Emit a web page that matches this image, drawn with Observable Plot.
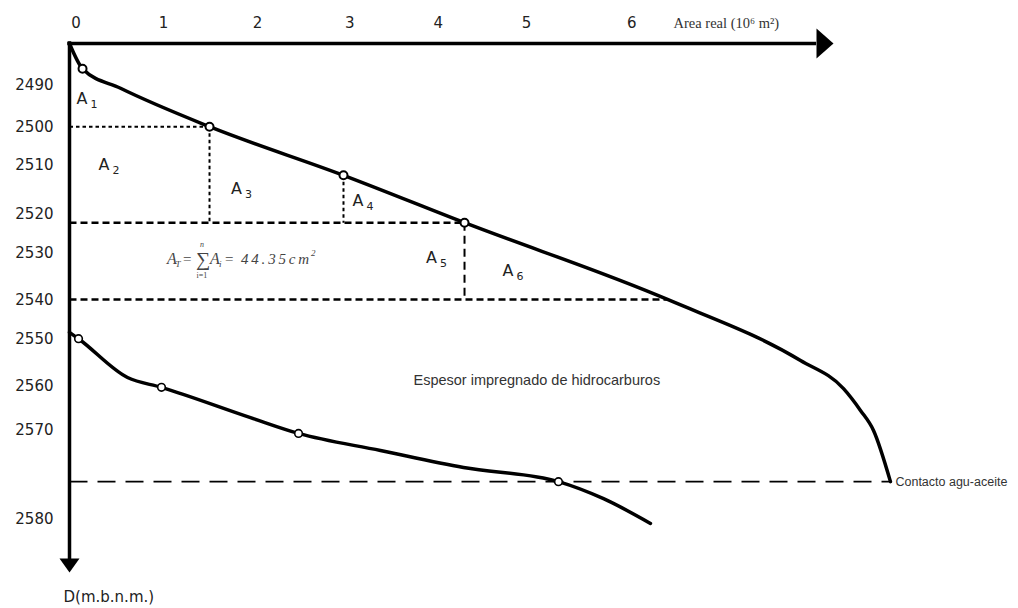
<!DOCTYPE html>
<html><head><meta charset="utf-8">
<script src="https://cdn.jsdelivr.net/npm/d3@7"></script>
<script src="https://cdn.jsdelivr.net/npm/@observablehq/plot@0.6"></script>
<style>body{margin:0;background:#fff}</style>
</head><body><div id="chart"></div>
<script>
// ---- data (area in 10^6 m^2, depth in m.b.n.m.) ----
const xTickLabels = ["0","1","2","3","4","5","6"];
const xTickAt     = [0.07, 1.01, 2.02, 3.01, 3.96, 4.91, 6.04];
const yTickLabels = ["2490","2500","2510","2520","2530","2540","2550","2560","2570","2580"];
const yTickAt     = [2489.8, 2499.5, 2508.6, 2519.9, 2529.2, 2540.2, 2549.4, 2560.4, 2570.7, 2591.6];

const upperArea  = [0, 0.14, 0.548, 1.504, 2.943, 4.243, 6.423, 7.852, 8.314, 8.496, 8.636, 8.818];
const upperDepth = [2480, 2485.9, 2490.5, 2499.5, 2510.9, 2522, 2540, 2554.3, 2560.9, 2566, 2570.7, 2582.7];
const lowerArea  = [0, 0.097, 0.623, 0.988, 1.944, 2.46, 3.34, 4.232, 5.252, 5.736, 6.24];
const lowerDepth = [2547.7, 2549.2, 2558.3, 2560.6, 2567.7, 2571.4, 2575.4, 2579.4, 2582.7, 2586.7, 2592.5];

const upperPtArea  = [0.14, 1.504, 2.943, 4.243];
const upperPtDepth = [2485.9, 2499.5, 2510.9, 2522];
const lowerPtArea  = [0.097, 0.988, 2.46, 5.252];
const lowerPtDepth = [2549.2, 2560.6, 2571.4, 2582.7];

const contactDepth = 2582.7, contactArea = 8.818;
const xAxisEnd = 8.206, yAxisTop = 2480, yAxisEnd = 2604;

// guide segments: [x1, y1, x2, y2]
const dottedSegs = [[0, 2499.5, 1.504, 2499.5], [1.504, 2499.5, 1.504, 2522], [2.943, 2510.9, 2.943, 2522]];
const dashedSegs = [[0, 2522, 4.243, 2522], [0, 2540, 6.423, 2540]];
const dashedVSegs = [[4.243, 2522, 4.243, 2540]];
const contactSegs = [[0, contactDepth, contactArea, contactDepth]];

const areaSub = ["1","2","3","4","5","6"];
const areaLabelX = [0.134, 0.371, 1.794, 3.099, 3.888, 4.71];
const areaLabelY = [2492.9, 2508.4, 2514.0, 2516.8, 2530.2, 2533.3];

// ---- build tables ----
const zip = (a, b) => a.map((v, i) => ({x: v, y: b[i]}));
const upper = zip(upperArea, upperDepth), lower = zip(lowerArea, lowerDepth);
const upperPts = zip(upperPtArea, upperPtDepth), lowerPts = zip(lowerPtArea, lowerPtDepth);
const seg = s => s.map(([x1, y1, x2, y2]) => ({x1, y1, x2, y2}));
const xt = xTickLabels.map((t, i) => ({t, x: xTickAt[i], y: yAxisTop}));
const yt = yTickLabels.map((t, i) => ({t, x: 0, y: yTickAt[i]}));
const al = areaSub.map((t, i) => ({t, x: areaLabelX[i], y: areaLabelY[i]}));

const arrowRight = {draw(c) { c.moveTo(0, 0); c.lineTo(-17, -15); c.lineTo(-17, 15); c.closePath(); }};
const arrowDown  = {draw(c) { c.moveTo(0, 0); c.lineTo(-10, -14); c.lineTo(10, -14); c.closePath(); }};

const sans = "DejaVu Sans, Verdana, sans-serif";
const arial = "Liberation Sans, Arial, sans-serif";
const serif = "Liberation Serif, Times New Roman, serif";

const chart = Plot.plot({
  width: 1018, height: 608,
  marginLeft: 69, marginRight: 18, marginTop: 43, marginBottom: 36,
  x: {domain: [0, 10], axis: null},
  y: {domain: [2480, 2604], reverse: true, axis: null},
  style: {background: "white", fontFamily: sans, overflow: "visible"},
  marks: [
    Plot.link(seg(dottedSegs), {x1: "x1", y1: "y1", x2: "x2", y2: "y2", strokeWidth: 2, strokeDasharray: "3.5,3"}),
    Plot.link(seg(dashedSegs), {x1: "x1", y1: "y1", x2: "x2", y2: "y2", strokeWidth: 2.5, strokeDasharray: "7,4"}),
    Plot.link(seg(dashedVSegs), {x1: "x1", y1: "y1", x2: "x2", y2: "y2", strokeWidth: 2, strokeDasharray: "8,5"}),
    Plot.link(seg(contactSegs), {x1: "x1", y1: "y1", x2: "x2", y2: "y2", strokeWidth: 1.6, strokeDasharray: "18,10"}),
    Plot.line(upper, {x: "x", y: "y", curve: "monotone-x", strokeWidth: 3.5}),
    Plot.line(lower, {x: "x", y: "y", curve: "monotone-x", strokeWidth: 3.5}),
    Plot.dot(upperPts, {x: "x", y: "y", r: 4, fill: "white", stroke: "black", strokeWidth: 2}),
    Plot.dot(lowerPts, {x: "x", y: "y", r: 3.8, fill: "white", stroke: "black", strokeWidth: 1.6}),
    Plot.ruleY([yAxisTop], {x1: 0, x2: xAxisEnd - 0.2, strokeWidth: 3.5, strokeLinecap: "square"}),
    Plot.ruleX([0], {y1: yAxisTop, y2: yAxisEnd - 3, strokeWidth: 3.5, strokeLinecap: "square"}),
    Plot.dot([{x: xAxisEnd, y: yAxisTop}], {x: "x", y: "y", symbol: arrowRight, fill: "black", stroke: "none"}),
    Plot.dot([{x: 0, y: yAxisEnd}], {x: "x", y: "y", symbol: arrowDown, fill: "black", stroke: "none"}),
    Plot.text(xt, {x: "x", y: "y", text: "t", dy: -20, fontSize: 15, fill: "#222"}),
    Plot.text(yt, {x: "x", y: "y", text: "t", dx: -16, textAnchor: "end", fontSize: 15, fill: "#222"}),
    Plot.text(al, {x: "x", y: "y", text: d => "A", fontSize: 16, fill: "#222"}),
    Plot.text(al, {x: "x", y: "y", text: "t", dx: 12, dy: 6, fontSize: 11, fill: "#222"}),
    Plot.text([{x: 6.488, y: yAxisTop}], {x: "x", y: "y", text: d => "Area real (10\u2076 m\u00b2)", dy: -20, textAnchor: "start", fontSize: 14.5, fontFamily: serif, fill: "#333"}),
    Plot.text([{x: 3.695, y: 2559}], {x: "x", y: "y", text: d => "Espesor impregnado de hidrocarburos", textAnchor: "start", fontSize: 14.5, fontFamily: arial, fill: "#333"}),
    Plot.text([{x: contactArea, y: contactDepth}], {x: "x", y: "y", text: d => "Contacto agu-aceite", dx: 5, textAnchor: "start", fontSize: 12.5, fontFamily: arial, fill: "#333"}),
    Plot.text([{x: -0.064, y: 2609.7}], {x: "x", y: "y", text: d => "D(m.b.n.m.)", textAnchor: "start", fontSize: 15, fill: "#222"})
  ]
});
document.getElementById("chart").appendChild(chart);

// formula annotation placed through the plot's scales
const fx = chart.scale("x").apply(1.053), fy = chart.scale("y").apply(2530.4);
const g = d3.select(chart).append("g").attr("fill", "#444").attr("font-family", serif).attr("text-anchor", "start");
const piece = (t, dx, dy, size, italic, extra) => {
  const e = g.append("text").attr("x", fx + dx).attr("y", fy + dy).attr("font-size", size).text(t);
  if (italic) e.attr("font-style", "italic");
  if (extra) extra(e);
};
piece("A", 0, 6, 16, true);
piece("T", 8.5, 9, 9, true);
piece("=", 16, 6, 15, false);
piece("\u2211", 29, 8, 20, false);
piece("n", 33, -11, 8, true);
piece("i=1", 29.5, 20, 8, false);
piece("A", 43, 6, 16, true);
piece("i", 52, 9, 9, true);
piece("=", 58, 6, 15, false);
piece("44.35cm", 74, 6, 15, true, e => e.attr("textLength", 68).attr("lengthAdjust", "spacing"));
piece("2", 144, -2, 9, true);
</script></body></html>
